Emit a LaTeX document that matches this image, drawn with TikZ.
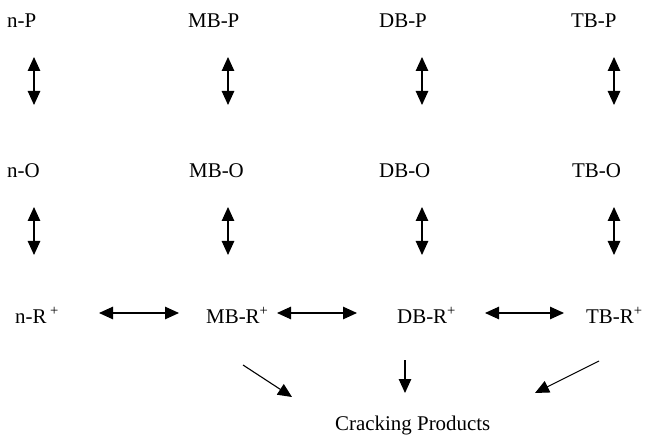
\documentclass[tikz,border=0pt]{standalone}
\usepackage{fontspec}
\setmainfont{Liberation Serif}
\usetikzlibrary{arrows.meta}
\begin{document}
\begin{tikzpicture}[x=1bp,y=-1bp,
  lbl/.style={anchor=base west,inner sep=0pt,font=\fontsize{21}{24}\selectfont},
  arr/.style={line width=1.1bp,{Triangle[length=14bp,width=12.5bp]}-{Triangle[length=14bp,width=12.5bp]}},
  one/.style={line width=1.1bp,-{Triangle[length=14bp,width=12.5bp]}}]
\useasboundingbox (0,0) rectangle (645,435);
% row 1
\node[lbl] (nP) at (7,28) {n-P};
\node[lbl] (MBP) at (188,28) {MB-P};
\node[lbl] (DBP) at (379,28) {DB-P};
\node[lbl] (TBP) at (571,28) {TB-P};
% row 2
\node[lbl] (nO) at (7,178) {n-O};
\node[lbl] (MBO) at (189,178) {MB-O};
\node[lbl] (DBO) at (379,178) {DB-O};
\node[lbl] (TBO) at (572,178) {TB-O};
% row 3
\node[lbl] (nR) at (15,323) {n-R\,\textsuperscript{+}};
\node[lbl] (MBR) at (206,323) {MB-R\textsuperscript{+}};
\node[lbl] (DBR) at (397,323) {DB-R\textsuperscript{+}};
\node[lbl] (TBR) at (586,323) {TB-R\textsuperscript{+}};
\node[lbl] (CP) at (335,430) {Cracking Products};
% arrow end coordinates
\foreach \n/\x in {a/34,b/228,c/422,d/614}{
  \coordinate (\n1t) at (\x,57);
  \coordinate (\n1b) at (\x,105);
  \coordinate (\n2t) at (\x,207);
  \coordinate (\n2b) at (\x,255);
}
\coordinate (h1l) at (99,313); \coordinate (h1r) at (179,313);
\coordinate (h2l) at (277,313); \coordinate (h2r) at (357,313);
\coordinate (h3l) at (485,313); \coordinate (h3r) at (564,313);
\coordinate (c1s) at (243,365); \coordinate (c1e) at (292,397);
\coordinate (c2s) at (405,360); \coordinate (c2e) at (405,393);
\coordinate (c3s) at (599,361); \coordinate (c3e) at (535,393);
\foreach \n in {a,b,c,d}{
  \draw[arr] (\n1t) -- (\n1b);
  \draw[arr] (\n2t) -- (\n2b);
}
\draw[arr] (h1l) -- (h1r);
\draw[arr] (h2l) -- (h2r);
\draw[arr] (h3l) -- (h3r);
\draw[one] (c1s) -- (c1e);
\draw[one] (c2s) -- (c2e);
\draw[one] (c3s) -- (c3e);
\end{tikzpicture}
\end{document}
